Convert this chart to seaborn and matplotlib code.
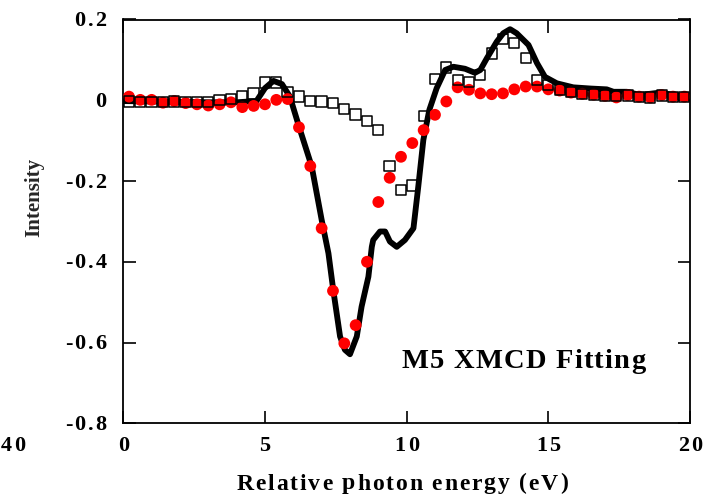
import numpy as np
import pandas as pd
import matplotlib
matplotlib.use("Agg")
import matplotlib.pyplot as plt
import seaborn as sns
from matplotlib.font_manager import FontProperties, findfont, get_font
from matplotlib.transforms import IdentityTransform

# ---- data ----
energy_pts = [0.2, 0.6, 1.0, 1.4, 1.8, 2.2, 2.6, 3.0, 3.4, 3.8, 4.2, 4.6, 5.0, 5.4, 5.8,
              6.2, 6.6, 7.0, 7.4, 7.8, 8.2, 8.6, 9.0, 9.4, 9.8, 10.2, 10.6, 11.0, 11.4, 11.8,
              12.2, 12.6, 13.0, 13.4, 13.8, 14.2, 14.6, 15.0, 15.4, 15.8, 16.2, 16.6, 17.0,
              17.4, 17.8, 18.2, 18.6, 19.0, 19.4, 19.8]
red_vals = [0.009, 0.001, 0.001, -0.006, -0.002, -0.007, -0.010, -0.013, -0.010, -0.005,
            -0.017, -0.014, -0.010, 0.001, 0.003, -0.067, -0.163, -0.317, -0.472, -0.602,
            -0.557, -0.400, -0.252, -0.192, -0.140, -0.106, -0.074, -0.036, -0.003, 0.032,
            0.026, 0.017, 0.015, 0.017, 0.027, 0.034, 0.034, 0.027, 0.024, 0.019,
            0.016, 0.014, 0.011, 0.007, 0.013, 0.009, 0.007, 0.013, 0.009, 0.009]
square_vals = [-0.003, -0.004, -0.004, -0.005, -0.003, -0.004, -0.005, -0.004, 0.000, 0.003,
               0.009, 0.017, 0.044, 0.044, 0.021, 0.009, -0.001, -0.003, -0.007, -0.022,
               -0.035, -0.051, -0.074, -0.162, -0.222, -0.211, -0.039, 0.053, 0.081, 0.050,
               0.046, 0.063, 0.116, 0.151, 0.141, 0.104, 0.050, 0.038, 0.027, 0.020,
               0.016, 0.014, 0.012, 0.010, 0.012, 0.008, 0.007, 0.012, 0.008, 0.008]
fit_x = [0.0, 1.0, 2.0, 3.0, 4.0, 4.7, 5.0, 5.3, 5.6, 5.88, 6.2, 6.65, 7.0, 7.24, 7.41,
         7.65, 7.82, 8.0, 8.24, 8.41, 8.65, 8.77, 8.82, 9.06, 9.24, 9.41, 9.65, 9.94,
         10.24, 10.41, 10.59, 10.8, 11.06, 11.36, 11.65, 12.06, 12.41, 12.6, 12.83, 13.18,
         13.41, 13.65, 13.88, 14.3, 14.6, 14.88, 15.3, 15.88, 16.5, 17.06, 17.3, 17.77,
         18.24, 18.94, 19.5, 20.0]
fit_y = [-0.002, -0.003, -0.004, -0.005, -0.005, -0.002, 0.030, 0.048, 0.040, 0.009,
         -0.065, -0.164, -0.296, -0.379, -0.470, -0.585, -0.618, -0.629, -0.585, -0.511,
         -0.437, -0.363, -0.346, -0.325, -0.325, -0.350, -0.363, -0.346, -0.317, -0.214,
         -0.098, -0.024, 0.030, 0.075, 0.083, 0.078, 0.068, 0.075, 0.104, 0.145,
         0.166, 0.176, 0.166, 0.137, 0.092, 0.058, 0.042, 0.032, 0.029, 0.027, 0.021, 0.021,
         0.013, 0.019, 0.012, 0.009]
x_ticks = [0, 5, 10, 15, 20]
x_tick_labels = ["0", "5", "10", "15", "20"]
y_ticks = [-0.8, -0.6, -0.4, -0.2, 0.0, 0.2]
y_tick_labels = ["-0.8", "-0.6", "-0.4", "-0.2", "0", "0.2"]
x_label = "Relative photon energy (eV)"
y_label = "Intensity"
panel_title = "M5 XMCD Fitting"
stray_label = "40"

pts = pd.DataFrame({"energy": energy_pts, "red": red_vals, "sq": square_vals})
fit = pd.DataFrame({"energy": fit_x, "fit": fit_y})

sns.set_style("ticks")
FAMILY = ["Liberation Serif", "DejaVu Serif"]
plt.rcParams["font.family"] = FAMILY
plt.rcParams["font.weight"] = "bold"

DPI = 100
W, H = 705, 497
fig = plt.figure(figsize=(W / DPI, H / DPI), dpi=DPI)
ax = fig.add_axes([123.3 / W, 1 - 423.3 / H, (690 - 123.3) / W, (423.3 - 19.5) / H])

sns.lineplot(data=fit, x="energy", y="fit", sort=False, estimator=None,
             color="black", linewidth=4.2, ax=ax, zorder=2)
sns.scatterplot(data=pts, x="energy", y="red", color="#ff0000", s=72,
                edgecolor="none", marker="o", ax=ax, zorder=3)
sns.scatterplot(data=pts, x="energy", y="sq", marker="s", s=55,
                facecolor="none", edgecolor="black", linewidth=1.1, ax=ax, zorder=4)

ax.set_xlim(0, 20)
ax.set_ylim(-0.8, 0.2)
ax.set_xticks(x_ticks)
ax.set_yticks(y_ticks)
ax.set_xticklabels([])
ax.set_yticklabels([])
ax.set_xlabel("")
ax.set_ylabel("")
for s in ax.spines.values():
    s.set_visible(True)
    s.set_linewidth(1.3)
    s.set_color("black")
ax.tick_params(direction="in", length=9, width=1.2, top=True, right=True, colors="black")


def spaced_text(s, x, y, size, spacing=None, width=None, ha="center"):
    """Draw letter-spaced text; x, y in pixels (y from the top, baseline)."""
    fp = FontProperties(family=FAMILY, weight="bold", size=size)
    font = get_font(findfont(fp))
    font.set_size(size, DPI)
    adv = [font.load_char(ord(c)).linearHoriAdvance / 65536.0 for c in s]
    natural = sum(adv)
    if width is not None and len(s) > 1:
        spacing = (width - natural) / (len(s) - 1)
    spacing = spacing or 0.0
    total = natural + spacing * (len(s) - 1)
    if ha == "center":
        x0 = x - total / 2
    elif ha == "right":
        x0 = x - total
    else:
        x0 = x
    pos = x0
    for c, a in zip(s, adv):
        if c != " ":
            fig.text(pos, H - y, c, transform=IdentityTransform(), ha="left",
                     va="baseline", fontproperties=fp, color="black")
        pos += a + spacing


# tick labels
TICK_SIZE = 16
TICK_SP = 2.2
for xv, lab in zip(x_ticks, x_tick_labels):
    px, _ = ax.transData.transform((xv, -0.8))
    spaced_text(lab, px, 451, TICK_SIZE, spacing=TICK_SP, ha="center")
for yv, lab in zip(y_ticks, y_tick_labels):
    _, py = ax.transData.transform((0, yv))
    spaced_text(lab, 106.5, H - py + 6.5, TICK_SIZE, spacing=TICK_SP, ha="right")

# axis labels
spaced_text(x_label, 236.7, 489.5, 17, width=331, ha="left")
fig.text(34 / W, 1 - 197.5 / H, y_label, rotation=90, ha="center", va="center",
         fontsize=15, fontweight="bold")

# panel title and stray label
spaced_text(panel_title, 402, 368, 20.5, width=243, ha="left")
spaced_text(stray_label, 0.5, 451, TICK_SIZE, spacing=TICK_SP, ha="left")

fig.savefig("out.png", dpi=DPI)
